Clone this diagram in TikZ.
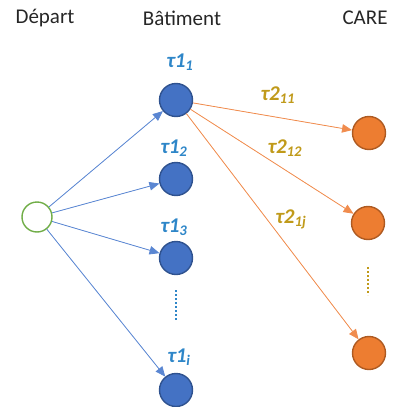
\documentclass[tikz,border=0pt]{standalone}
\usepackage{fontspec}
\setmainfont{Carlito}
\usetikzlibrary{arrows.meta}
\definecolor{bfill}{HTML}{4472C4}
\definecolor{bline}{HTML}{2F528F}
\definecolor{ofill}{HTML}{ED7D31}
\definecolor{oline}{HTML}{AE5A21}
\definecolor{gline}{HTML}{70AD47}
\definecolor{tblue}{HTML}{2E86C8}
\definecolor{tgold}{HTML}{C09A1A}
\definecolor{ablue}{HTML}{5A86D2}
\definecolor{aorange}{HTML}{F08C4E}
\tikzset{
  dot/.style={circle, minimum size=33pt, inner sep=0pt, line width=1.4pt},
  bat/.style={dot, fill=bfill, draw=bline},
  care/.style={dot, fill=ofill, draw=oline},
  start/.style={dot, minimum size=30pt, fill=white, draw=gline},
  head/.style={font=\fontsize{21}{24}\selectfont, text=black!85},
  rate/.style={font=\fontsize{21}{24}\selectfont\bfseries\itshape, inner sep=0pt},
  rone/.style={rate, text=tblue},
  rtwo/.style={rate, text=tgold},
  tip/.style={-{Triangle[length=10pt,width=8.5pt]}, line width=0.8pt},
  blink/.style={tip, draw=ablue, fill=ablue},
  olink/.style={tip, draw=aorange, fill=aorange},
  dots/.style={line width=2pt, dash pattern=on 2pt off 2pt}
}
\begin{document}
\begin{tikzpicture}[x=1pt, y=-1pt]
\useasboundingbox (0,0) rectangle (393,407);

% column headings
\node[head] (hd) at (45,18) {Départ};
\node[head] (hb) at (182,18) {Bâtiment};
\node[head] (hc) at (365,18) {CARE};

% nodes
\node[start] (s) at (37,217) {};
\node[bat] (b1) at (176,100) {};
\node[bat] (b2) at (176,179) {};
\node[bat] (b3) at (176,258) {};
\node[bat] (bi) at (176,390) {};
\node[care] (c1) at (369,133) {};
\node[care] (c2) at (368,223) {};
\node[care] (cj) at (369,353) {};

% rate labels
\node[rone] (t11) at (180,62) {τ1\textsubscript{1}};
\node[rone] (t12) at (174,148) {τ1\textsubscript{2}};
\node[rone] (t13) at (174,227) {τ1\textsubscript{3}};
\node[rone] (t1i) at (179,357) {τ1\textsubscript{\textit{i}}};
\node[rtwo] (t211) at (278,95) {τ2\textsubscript{11}};
\node[rtwo] (t212) at (285,148) {τ2\textsubscript{12}};
\node[rtwo] (t21j) at (291,219) {τ2\textsubscript{1\textit{j}}};

% ellipses
\coordinate (d1a) at (176,290);
\coordinate (d1b) at (176,320);
\coordinate (d2a) at (368,267);
\coordinate (d2b) at (368,295);
\draw[dots, tblue] (d1a) -- (d1b);
\draw[dots, tgold] (d2a) -- (d2b);

% links
\draw[blink] (s) -- (b1);
\draw[blink] (s) -- (b2);
\draw[blink] (s) -- (b3);
\draw[blink] (s) -- (bi);
\draw[olink] (b1) -- (c1);
\draw[olink] (b1) -- (c2);
\draw[olink] (b1) -- (cj);
\end{tikzpicture}
\end{document}
